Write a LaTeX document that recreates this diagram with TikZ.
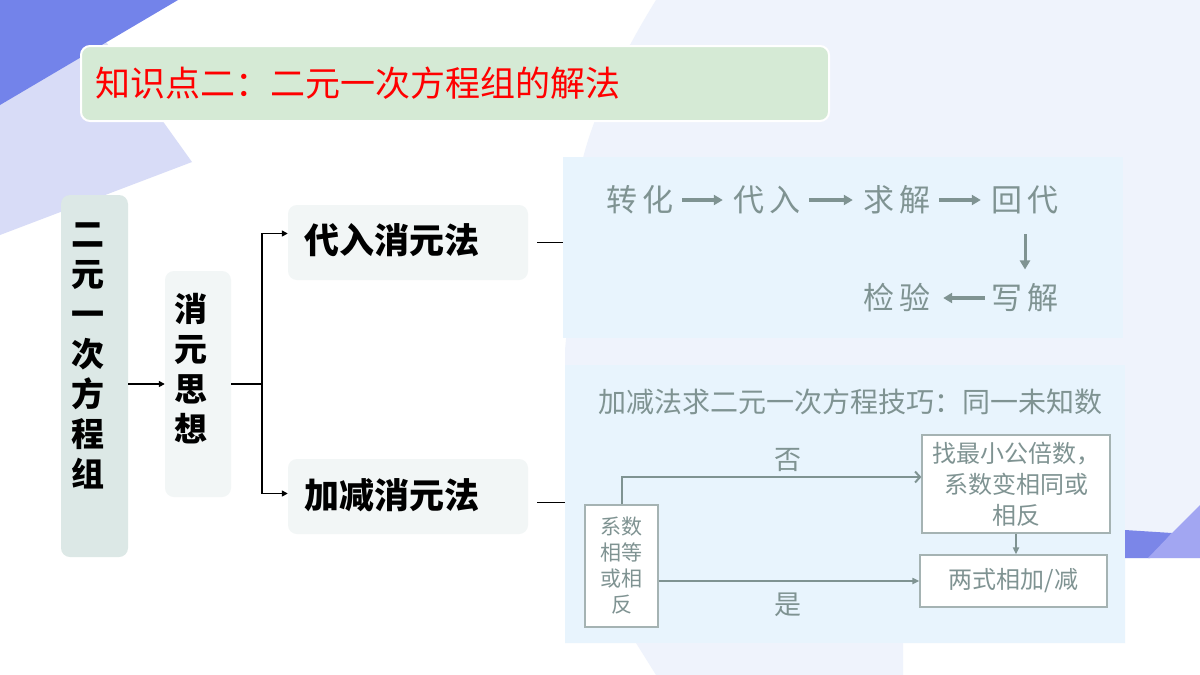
\documentclass[tikz,border=0pt]{standalone}
\usepackage{fontspec}
\newfontfamily\cjk{Noto Sans CJK SC}
\usetikzlibrary{arrows.meta}
\definecolor{darkblue}{HTML}{7383EA}
\definecolor{lavender}{HTML}{D8DCF7}
\definecolor{pale}{HTML}{EFF3FC}
\definecolor{panelblue}{HTML}{E8F4FD}
\definecolor{titlegreen}{HTML}{D5EAD5}
\definecolor{leftbox}{HTML}{DCE8E6}
\definecolor{lightbox}{HTML}{F2F6F6}
\definecolor{graytext}{HTML}{7F9392}
\definecolor{grayborder}{HTML}{A5B3B3}
\definecolor{bandblue}{HTML}{7B86E8}
\definecolor{lightpurple}{HTML}{A2A6F2}
\begin{document}
\begin{tikzpicture}[x=1pt,y=-1pt,
  every node/.style={font=\cjk},
  softbox/.style={rounded corners=9pt, inner sep=0pt},
  blackarrow/.style={line width=1.5pt, -{Triangle[length=6pt,width=6pt]}},
  blackline/.style={line width=1.5pt},
  flowword/.style={text=graytext, font=\cjk\fontsize{31}{33}\selectfont, inner sep=2pt},
  flowarrow/.style={draw=graytext, line width=3.5pt, -{Triangle[length=9pt,width=10pt]}},
  graybox/.style={draw=grayborder, line width=1.2pt, fill=white, inner sep=0pt, text=graytext, align=center},
  grayarrow/.style={draw=graytext, line width=2pt},
  graylabel/.style={text=graytext, font=\cjk\fontsize{27}{29}\selectfont}
]
\useasboundingbox (0,0) rectangle (1200,675);
\fill[white] (0,0) rectangle (1200,675);
% background shapes
\fill[pale] (656,0) .. controls (625,50) and (595,110) .. (583,158) -- (565,350) -- (565,643) -- (636,643) -- (656,675) -- (903,675) -- (903,643) -- (1125,643) -- (1125,558) -- (1200,558) -- (1200,0) -- cycle;
\fill[lavender] (0,0) -- (76,0) -- (192,162) -- (0,235) -- cycle;
\fill[darkblue] (0,0) -- (178,0) -- (0,105) -- cycle;
\fill[bandblue] (1125,530) -- (1172,533) -- (1150,558) -- (1125,558) -- cycle;
\fill[lightpurple] (1148,558) -- (1172,533) -- (1200,505) -- (1200,558) -- cycle;

% title
\node[softbox, draw=white, line width=2pt, fill=titlegreen, minimum width=748pt, minimum height=75pt, anchor=north west] (titlebox) at (80,45) {};
\node[anchor=west, text=red, font=\cjk\fontsize{35}{37}\selectfont, inner sep=0pt] (title) at ([xshift=15pt]titlebox.west) {知识点二：二元一次方程组的解法};

% left part
\node[softbox, fill=leftbox, minimum width=67pt, minimum height=362pt] (eq) at (94.5,376) {};
\node[align=center, font=\cjk\bfseries\fontsize{33}{40}\selectfont, inner sep=0pt] (eqtext) at (88,356) {二\\元\\一\\次\\方\\程\\组};
\node[softbox, fill=lightbox, minimum width=66pt, minimum height=226pt] (xy) at (198,384) {};
\node[align=center, font=\cjk\bfseries\fontsize{33}{40}\selectfont, inner sep=0pt] (xytext) at (191,369) {消\\元\\思\\想};
\node[softbox, fill=lightbox, minimum width=240pt, minimum height=75pt] (dr) at (408,242.5) {};
\node[font=\cjk\bfseries\fontsize{35}{37}\selectfont, inner sep=0pt, anchor=west] (drtext) at (304,240) {代入消元法};
\node[softbox, fill=lightbox, minimum width=240pt, minimum height=75pt] (jj) at (408,496.5) {};
\node[font=\cjk\bfseries\fontsize{35}{37}\selectfont, inner sep=0pt, anchor=west] (jjtext) at (304,495) {加减消元法};
\coordinate (split) at (262,384);
\draw[blackarrow] (eq.east |- xy.west) -- (xy.west);
\draw[blackline] (xy.east) -- (split);
\draw[blackarrow] (split) |- ([yshift=9pt]dr.west);
\draw[blackarrow] (split) |- ([yshift=3pt]jj.west);

% panels
\node[fill=panelblue, minimum width=560pt, minimum height=181pt, inner sep=0pt, anchor=north west] (p1) at (563,157) {};
\node[fill=panelblue, minimum width=560pt, minimum height=278pt, inner sep=0pt, anchor=north west] (p2) at (565,365) {};
\draw[blackline] ([xshift=9pt]dr.east) -- (dr.east -| p1.west);
\draw[blackline] ([xshift=9pt,yshift=-6pt]jj.east) -- ([yshift=-6pt]jj.east -| p2.west);

% upper flow
\node[flowword] (zh) at (640,200) {转\hspace{6pt}化};
\node[flowword] (dr2) at (767,200) {代\hspace{6pt}入};
\node[flowword] (qj) at (897,200) {求\hspace{6pt}解};
\node[flowword] (hd) at (1025,200) {回\hspace{6pt}代};
\node[flowword] (xj) at (1025,298) {写\hspace{6pt}解};
\node[flowword] (jy) at (897,298) {检\hspace{6pt}验};
\draw[flowarrow] ([xshift=6pt]zh.east) -- ([xshift=-8pt]dr2.west);
\draw[flowarrow] ([xshift=6pt]dr2.east) -- ([xshift=-8pt]qj.west);
\draw[flowarrow] ([xshift=6pt]qj.east) -- ([xshift=-8pt]hd.west);
\draw[flowarrow, line width=3pt] ([yshift=-18pt]hd.south) -- ([yshift=12pt]xj.north);
\draw[flowarrow] ([xshift=-4pt]xj.west) -- ([xshift=10pt]jy.east);

% lower panel
\node[text=graytext, font=\cjk\fontsize{28}{30}\selectfont, inner sep=0pt] (tip) at (850,402) {加减法求二元一次方程技巧：同一未知数};
\node[graybox, minimum width=73pt, minimum height=122pt, font=\cjk\fontsize{21}{26}\selectfont] (b1) at (621.5,566) {系数\\相等\\或相\\反};
\node[graybox, minimum width=188pt, minimum height=98pt, font=\cjk\fontsize{24}{31}\selectfont] (b2) at (1016,484) {找最小公倍数，\\系数变相同或\\相反};
\node[graybox, minimum width=187pt, minimum height=52pt, font=\cjk\fontsize{24}{26}\selectfont] (b3) at (1013.5,581) {两式相加/减};
\draw[grayarrow, -{Straight Barb[length=5pt,width=11pt]}] (b1.north) |- ([yshift=7pt]b2.west);
\draw[grayarrow, -{Triangle[length=7pt,width=6pt]}] (b1.east |- b3.west) -- (b3.west);
\draw[grayarrow, -{Triangle[length=7pt,width=6pt]}] (b2.south) -- (b2.south |- b3.north);
\node[graylabel] (no) at (788,460) {否};
\node[graylabel] (yes) at (788,605) {是};
\end{tikzpicture}
\end{document}
